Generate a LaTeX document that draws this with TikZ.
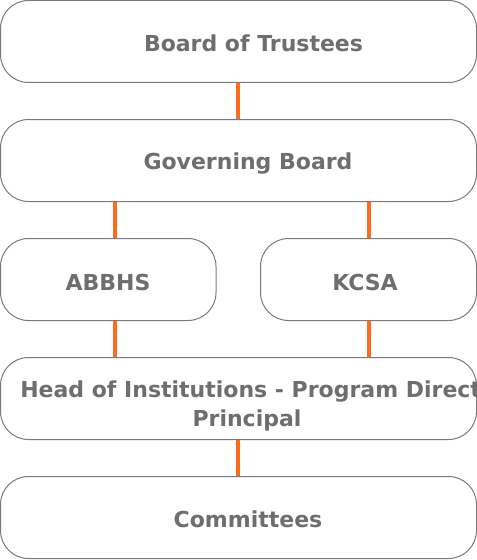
\documentclass[tikz,border=0pt]{standalone}
\usepackage{fontspec}
\setmainfont{DejaVu Sans}
\definecolor{txt}{HTML}{6E6E6E}
\definecolor{edge}{HTML}{7A7A7A}
\definecolor{conn}{HTML}{FF6A1C}
\begin{document}
\begin{tikzpicture}[x=0.75pt,y=-0.75pt,
  box/.style={draw=edge,line width=0.75pt,rounded corners=21pt,fill=white},
  lbl/.style={inner sep=0pt,text=txt,font=\fontsize{16.5}{20}\selectfont\bfseries,anchor=center},
  link/.style={draw=conn,line width=2.6pt}]
\useasboundingbox (0,0) rectangle (477,560);
\path[box] (0.5,0.5) rectangle (476.5,82.5);
\path[box] (0.5,119.5) rectangle (476.5,201.5);
\path[box] (0.5,238.5) rectangle (216,320.5);
\path[box] (260.5,238.5) rectangle (476.5,320.5);
\path[box] (0.5,357.5) rectangle (476.5,439.5);
\path[box] (0.5,476.5) rectangle (476.5,558.5);
\coordinate (b1) at (238,83);
\coordinate (b2t) at (238,119);
\coordinate (b2l) at (115,202);
\coordinate (b2r) at (369,202);
\coordinate (b3t) at (115,238);
\coordinate (b4t) at (369,238);
\coordinate (b3b) at (115,321);
\coordinate (b4b) at (369,321);
\coordinate (b5l) at (115,357);
\coordinate (b5r) at (369,357);
\coordinate (b5b) at (238,440);
\coordinate (b6t) at (238,476);
\draw[link] (b1) -- (b2t);
\draw[link] (b2l) -- (b3t);
\draw[link] (b2r) -- (b4t);
\draw[link] (b3b) -- (b5l);
\draw[link] (b4b) -- (b5r);
\draw[link] (b5b) -- (b6t);
\node[lbl] (t1) at (253.5,43.5) {Board of Trustees};
\node[lbl] (t2) at (248,164) {Governing Board};
\node[lbl] (t3) at (108,282.5) {ABBHS};
\node[lbl] (t4) at (365,282.5) {KCSA};
\node[lbl,anchor=west] (t5) at (20,392) {Head of Institutions - Program Direct};
\node[lbl] (t6) at (247,420) {Principal};
\node[lbl] (t7) at (248,519) {Committees};
\end{tikzpicture}
\end{document}
